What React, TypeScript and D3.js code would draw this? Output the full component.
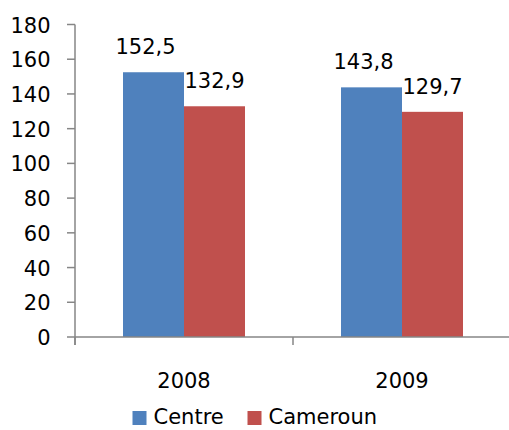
import React from "react";
import * as d3 from "d3";

const categories = ["2008", "2009"];
const seriesNames = ["Centre", "Cameroun"];
const centreValues = [152.5, 143.8];
const camerounValues = [132.9, 129.7];
const yTicks = [0, 20, 40, 60, 80, 100, 120, 140, 160, 180];
const colors = ["#4F81BD", "#C0504D"];

const W = 509;
const H = 430;
const X0 = 75;
const X1 = 511;
const Y0 = 337;
const Y1 = 24.5;
const FONT = "DejaVu Sans, sans-serif";
const AXIS = "#868686";
const FS = 21;

export default function App() {
  const x = d3.scaleBand<string>().domain(categories).range([X0, X1]).padding(0);
  const inner = d3
    .scaleBand<string>()
    .domain(seriesNames)
    .range([0, x.bandwidth()])
    .paddingInner(0)
    .paddingOuter(0.787);
  const y = d3.scaleLinear().domain([0, 180]).range([Y0, Y1]);
  const series = [centreValues, camerounValues];
  const fmt = (v: number) => v.toFixed(1).replace(".", ",");
  const labelDx = [-8, 0];

  return (
    <svg
      width={W}
      height={H}
      style={{ position: "absolute", left: 0, top: 0, background: "#fff" }}
      fontFamily={FONT}
    >
      <rect x={0} y={0} width={W} height={H} fill="#fff" />
      {categories.map((c, ci) =>
        seriesNames.map((s, si) => {
          const v = series[si][ci];
          const bx = (x(c) as number) + (inner(s) as number);
          return (
            <g key={c + s}>
              <rect
                x={bx}
                y={y(v)}
                width={inner.bandwidth()}
                height={Y0 - y(v)}
                fill={colors[si]}
              />
              <text
                x={bx + inner.bandwidth() / 2 + labelDx[si]}
                y={y(v) - 18}
                textAnchor="middle"
                fontSize={FS}
                fill="#000"
              >
                {fmt(v)}
              </text>
            </g>
          );
        })
      )}
      <line x1={X0} x2={X0} y1={Y1} y2={Y0 + 8} stroke={AXIS} strokeWidth={1.5} />
      {yTicks.map((t) => (
        <g key={t}>
          <line x1={X0 - 8} x2={X0} y1={y(t)} y2={y(t)} stroke={AXIS} strokeWidth={1.5} />
          <text x={50.5} y={y(t) + 8} textAnchor="end" fontSize={FS} fill="#000">
            {t}
          </text>
        </g>
      ))}
      <line x1={X0} x2={X1} y1={Y0} y2={Y0} stroke={AXIS} strokeWidth={1.5} />
      {[...categories.map((c) => x(c) as number), X1].map((px, i) => (
        <line key={i} x1={px} x2={px} y1={Y0} y2={Y0 + 8} stroke={AXIS} strokeWidth={1.5} />
      ))}
      {categories.map((c) => (
        <text
          key={c}
          x={(x(c) as number) + x.bandwidth() / 2}
          y={388}
          textAnchor="middle"
          fontSize={FS}
          fill="#000"
        >
          {c}
        </text>
      ))}
      {seriesNames.map((s, i) => {
        const lx = [132.5, 247.5][i];
        return (
          <g key={s}>
            <rect x={lx} y={411} width={14} height={14} fill={colors[i]} />
            <text x={lx + 21} y={424} fontSize={FS} fill="#000">
              {s}
            </text>
          </g>
        );
      })}
    </svg>
  );
}
